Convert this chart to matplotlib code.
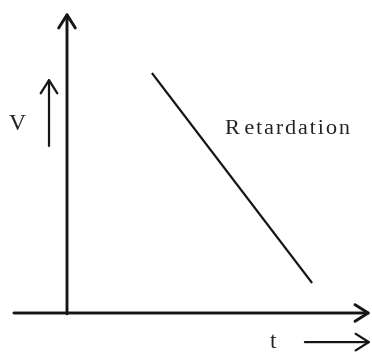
import matplotlib
matplotlib.use("Agg")
import matplotlib.pyplot as plt

# ---- data (diagram units: 1 unit = 30 px) ----
t_line = [2.83, 8.17]          # retardation line, time values
v_line = [8.0, 1.0]            # retardation line, velocity values
t_axis = [-1.77, 10.13]        # horizontal axis extent
v_axis = [-0.03, 10.03]        # vertical axis extent
line_label = "R\u2009e\u200at\u200aa\u200ar\u200ad\u200aa\u200at\u200ai\u200ao\u200an"
x_label = "t"
y_label = "V"

ink = "#151515"
fig = plt.figure(figsize=(3.72, 3.56), dpi=100)
ax = fig.add_axes([0, 0, 1, 1])
ax.set_xlim(-67 / 30, 305 / 30)
ax.set_ylim(-43 / 30, 313 / 30)
ax.axis("off")

def arrow(x0, y0, x1, y1, lw):
    ax.annotate("", xy=(x1, y1), xytext=(x0, y0),
                arrowprops=dict(arrowstyle="->,head_length=0.95,head_width=0.6",
                                lw=lw, color=ink, shrinkA=0, shrinkB=0,
                                mutation_scale=10))

# axes
arrow(t_axis[0], 0, t_axis[1], 0, 2.1)
arrow(0, v_axis[0], 0, v_axis[1], 2.1)

# retardation line
ax.plot(t_line, v_line, color=ink, lw=1.6, solid_capstyle="butt")

# small direction arrows
arrow(-0.6, 5.57, -0.6, 7.83, 1.6)
arrow(7.93, -0.97, 10.13, -0.97, 1.6)

font = dict(family=["Liberation Serif", "DejaVu Serif"], color="#222222")
ax.text(-1.67, 6.3, y_label, fontsize=17, ha="center", va="center", **font)
ax.text(6.87, -1.15, x_label, fontsize=17, ha="center", va="baseline", **font)
ax.text(5.27, 6.1, line_label, fontsize=16, ha="left", va="center", **font)

fig.savefig("out.png", dpi=100)
